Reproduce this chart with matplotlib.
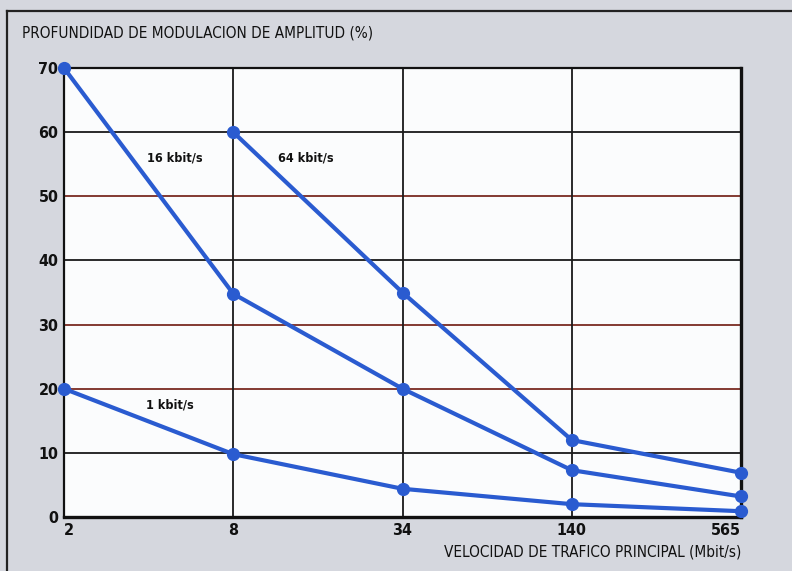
import matplotlib
matplotlib.use("Agg")
import matplotlib.pyplot as plt
from matplotlib.lines import Line2D

# ---- data ----
x_labels = ["2", "8", "34", "140", "565"]
y_ticks = [0, 10, 20, 30, 40, 50, 60, 70]
s_1k = [20, 9.8, 4.4, 2.0, 0.9]
s_16k = [70, 34.8, 20, 7.3, 3.2]
s_64k_x = [1, 2, 3, 4]
s_64k = [60, 35, 12.0, 6.9]
series_labels = ["1 kbit/s", "16 kbit/s", "64 kbit/s"]
ylabel = "PROFUNDIDAD DE MODULACION DE AMPLITUD (%)"
xlabel = "VELOCIDAD DE TRAFICO PRINCIPAL (Mbit/s)"

plt.rcParams["font.family"] = ["DejaVu Sans"]
plt.rcParams["font.stretch"] = "condensed"

W, H = 792, 571
bg = "#d5d7de"
fig = plt.figure(figsize=(W / 100, H / 100), dpi=100, facecolor=bg)

# outer frame
fig.add_artist(Line2D([7 / W, 7 / W], [0, 1 - 11 / H], transform=fig.transFigure, color="#222222", lw=1.6))
fig.add_artist(Line2D([7 / W, 1], [1 - 11 / H, 1 - 11 / H], transform=fig.transFigure, color="#222222", lw=1.6))

ax = fig.add_axes([64 / W, 1 - 517 / H, (741 - 64) / W, (517 - 68) / H])
ax.set_facecolor("#fbfcfd")
ax.set_xlim(0, 4)
ax.set_ylim(0, 70)

# grid
red_rows = {20, 30, 50}
for v in y_ticks[1:-1]:
    ax.axhline(v, color="#7a2b22" if v in red_rows else "#1a1a1a", lw=1.3, zorder=1)
for i in range(1, 4):
    ax.axvline(i, color="#1a1a1a", lw=1.3, zorder=1)

blue = "#2a5bd0"
kw = dict(color=blue, lw=3.0, marker="o", markersize=8.5, zorder=3, clip_on=False)
ax.plot(range(5), s_1k, **kw)
ax.plot(range(5), s_16k, **kw)
ax.plot(s_64k_x, s_64k, **kw)

# series labels
tkw = dict(fontsize=9, ha="center", va="center", color="#111111", fontweight="bold", fontstretch="condensed")
ax.text(0.656, 56, series_labels[1], **tkw)
ax.text(1.43, 56, series_labels[2], **tkw)
ax.text(0.626, 17.5, series_labels[0], **tkw)

for s in ["left", "top"]:
    ax.spines[s].set_linewidth(1.6)
for s in ["bottom", "right"]:
    ax.spines[s].set_linewidth(2.4)
for s in ax.spines.values():
    s.set_color("#111111")

ax.set_yticks(y_ticks)
ax.set_yticklabels([str(v) for v in y_ticks], fontsize=11.5, fontweight="bold", color="#111111")
ax.set_xticks(range(5))
ax.set_xticklabels(x_labels, fontsize=11.5, fontweight="bold", color="#111111")
ax.tick_params(length=0, pad=4)
xt = ax.get_xticklabels()
xt[0].set_ha("left")
xt[-1].set_ha("right")
for t in ax.get_xticklabels() + ax.get_yticklabels():
    t.set_fontstretch("condensed")

fig.text(22 / W, 1 - 33 / H, ylabel, fontsize=11, ha="left", va="center", color="#111111", fontstretch="condensed")
fig.text(741 / W, 1 - 552 / H, xlabel, fontsize=11, ha="right", va="center", color="#111111", fontstretch="condensed")

fig.savefig("out.png", dpi=100, facecolor=bg)
